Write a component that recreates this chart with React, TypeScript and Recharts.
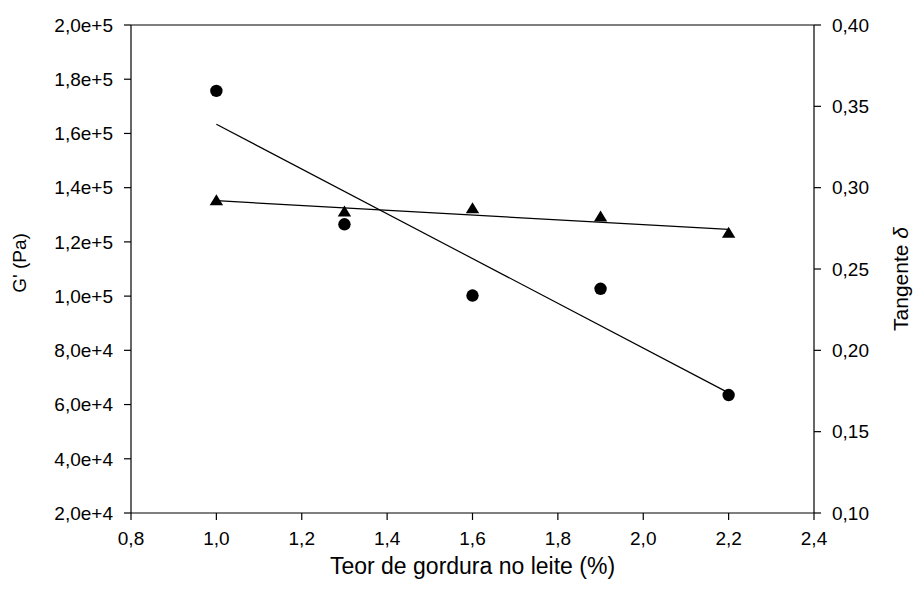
import { ScatterChart, Scatter, XAxis, YAxis, ReferenceLine, Label } from 'recharts'

// fat content in milk (%)
const fatContent = [1.0, 1.3, 1.6, 1.9, 2.2]
// G' (Pa), circles
const storageModulus = [175700, 126500, 100200, 102700, 63500]
// tangent delta, triangles
const tanDelta = [0.292, 0.285, 0.287, 0.282, 0.272]

// fitted lines at their ends
const fitX = [1.0, 2.2]
const gFit = [163400, 64300]
const tanFit = [0.292, 0.2743]

const xTicks = [0.8, 1.0, 1.2, 1.4, 1.6, 1.8, 2.0, 2.2, 2.4]
const gTicks = [20000, 40000, 60000, 80000, 100000, 120000, 140000, 160000, 180000, 200000]
const tanTicks = [0.1, 0.15, 0.2, 0.25, 0.3, 0.35, 0.4]

const gPoints = fatContent.map((x, i) => ({ x, y: storageModulus[i] }))
const tanPoints = fatContent.map((x, i) => ({ x, y: tanDelta[i] }))
const gLine = fitX.map((x, i) => ({ x, y: gFit[i] }))
const tanLine = fitX.map((x, i) => ({ x, y: tanFit[i] }))

const FONT = 'Liberation Sans, Arial, sans-serif'
const tickStyle = { fontSize: 19, fill: '#000', fontFamily: FONT }

const comma = (s: string) => s.replace('.', ',')
const fmtX = (v: number) => comma(v.toFixed(1))
const fmtG = (v: number) => comma(v.toExponential(1))
const fmtTan = (v: number) => comma(v.toFixed(2))

const Dot = (p: any) => <circle cx={p.cx} cy={p.cy} r={6.2} fill="#000" />
const Tri = (p: any) => (
  <polygon
    points={`${p.cx},${p.cy - 6.5} ${p.cx - 6.7},${p.cy + 4.5} ${p.cx + 6.7},${p.cy + 4.5}`}
    fill="#000"
  />
)
const NoMark = () => <g />

export default function App() {
  return (
    <div style={{ position: 'absolute', left: 0, top: 0, background: '#fff' }}>
      <ScatterChart
        width={916}
        height={593}
        margin={{ top: 25, right: 0, bottom: 0, left: 0 }}
      >
        <XAxis
          type="number"
          dataKey="x"
          domain={[0.8, 2.4]}
          ticks={xTicks}
          tickFormatter={fmtX}
          tick={tickStyle}
          tickSize={7}
          tickMargin={12}
          height={80}
          stroke="#000"
          strokeWidth={1.2}
          allowDataOverflow
        >
          <Label
            value="Teor de gordura no leite (%)"
            position="insideBottom"
            offset={19}
            style={{ fontSize: 23, fill: '#000', fontFamily: FONT }}
          />
        </XAxis>
        <YAxis
          yAxisId="g"
          type="number"
          dataKey="y"
          domain={[20000, 200000]}
          ticks={gTicks}
          tickFormatter={fmtG}
          tick={tickStyle}
          tickSize={7}
          tickMargin={11}
          width={131}
          stroke="#000"
          strokeWidth={1.2}
          allowDataOverflow
        >
          <Label
            content={(props: any) => {
              const vb = props.viewBox
              const cx = vb.x + 19
              const cy = vb.y + vb.height / 2 - 6
              return (
                <text
                  x={cx}
                  y={cy}
                  transform={`rotate(-90 ${cx} ${cy})`}
                  textAnchor="middle"
                  dominantBaseline="central"
                  style={{ fontSize: 19, fill: '#000', fontFamily: FONT }}
                >
                  G' (Pa)
                </text>
              )
            }}
          />
        </YAxis>
        <YAxis
          yAxisId="tan"
          orientation="right"
          type="number"
          dataKey="y"
          domain={[0.1, 0.4]}
          ticks={tanTicks}
          tickFormatter={fmtTan}
          tick={tickStyle}
          tickSize={7}
          tickMargin={11}
          width={102}
          stroke="#000"
          strokeWidth={1.2}
          allowDataOverflow
        >
          <Label
            content={(props: any) => {
              const vb = props.viewBox
              const cx = vb.x + 86
              const cy = vb.y + vb.height / 2 + 10
              return (
                <text
                  x={cx}
                  y={cy}
                  transform={`rotate(-90 ${cx} ${cy})`}
                  textAnchor="middle"
                  dominantBaseline="central"
                  style={{ fontSize: 21, fill: '#000', fontFamily: FONT }}
                >
                  Tangente <tspan fontStyle="italic">δ</tspan>
                </text>
              )
            }}
          />
        </YAxis>
        <ReferenceLine yAxisId="g" y={200000} stroke="#000" strokeWidth={1.2} />
        <Scatter
          yAxisId="g"
          data={gLine}
          line={{ stroke: '#000', strokeWidth: 1.2 }}
          shape={NoMark}
          isAnimationActive={false}
        />
        <Scatter
          yAxisId="tan"
          data={tanLine}
          line={{ stroke: '#000', strokeWidth: 1.2 }}
          shape={NoMark}
          isAnimationActive={false}
        />
        <Scatter yAxisId="g" data={gPoints} shape={Dot} isAnimationActive={false} />
        <Scatter yAxisId="tan" data={tanPoints} shape={Tri} isAnimationActive={false} />
      </ScatterChart>
    </div>
  )
}
